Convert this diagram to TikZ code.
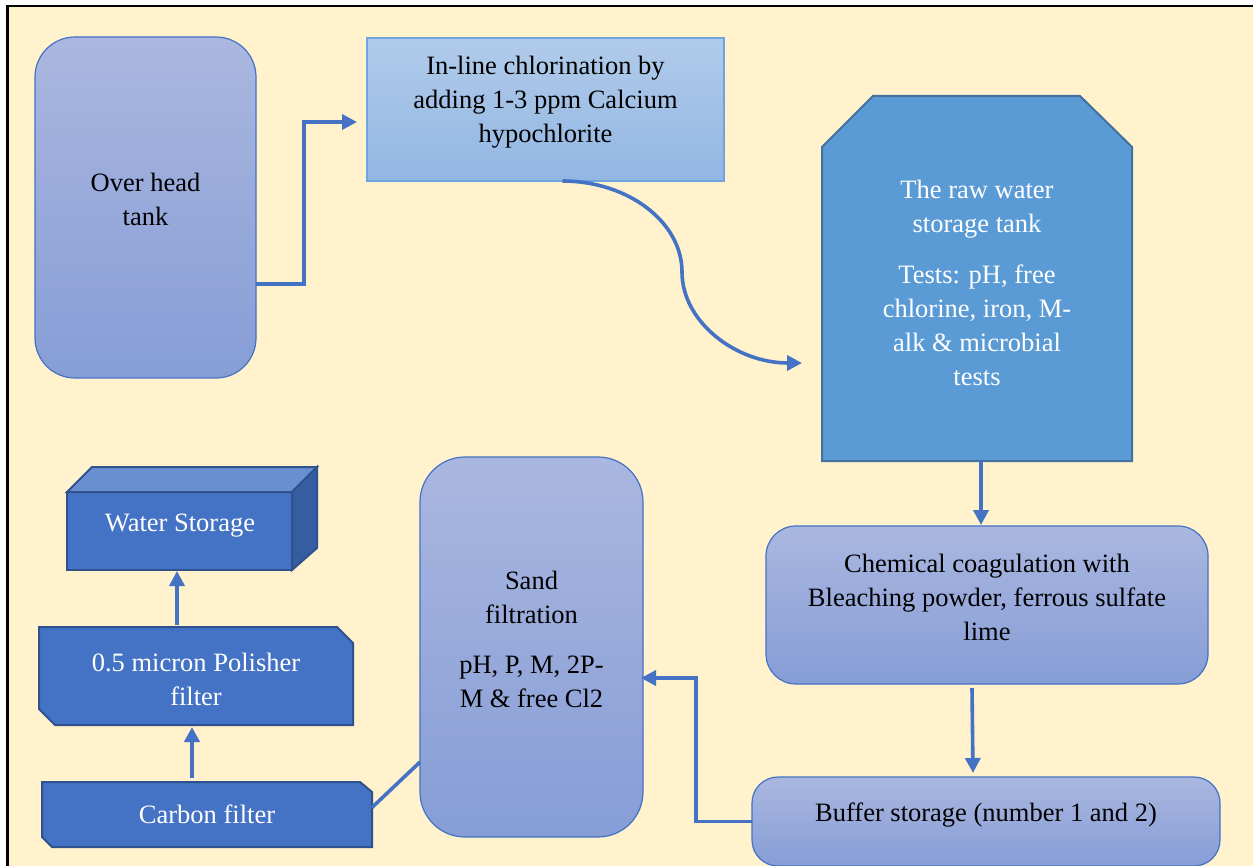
\documentclass[tikz,border=0pt]{standalone}
\usepackage{fontspec}
\setmainfont{Liberation Serif}
\newfontfamily\labelfont{Liberation Serif}
\usetikzlibrary{arrows.meta}

\definecolor{paper}{HTML}{FFF2CC}
\definecolor{flowblue}{HTML}{4472C4}
\definecolor{tanktop}{HTML}{AAB7E0}
\definecolor{tankbot}{HTML}{869DD6}
\definecolor{chltop}{HTML}{B1CBEA}
\definecolor{chlbot}{HTML}{92B6E3}
\definecolor{chledge}{HTML}{6FA4DC}
\definecolor{rawfill}{HTML}{5B9BD5}
\definecolor{rawedge}{HTML}{41719C}
\definecolor{darkfill}{HTML}{4472C4}
\definecolor{darkedge}{HTML}{2F528F}
\definecolor{cubetop}{HTML}{6A8FD0}
\definecolor{cubeside}{HTML}{365DA1}

\begin{document}
\begin{tikzpicture}[x=1pt,y=-1pt,
  every node/.style={font=\labelfont\fontsize{26.5}{34}\selectfont, inner sep=0pt, outer sep=0pt},
  softbox/.style={rectangle, draw=flowblue, line width=1.2pt, top color=tanktop, bottom color=tankbot},
  chlbox/.style={rectangle, draw=chledge, line width=1.5pt, top color=chltop, bottom color=chlbot},
  frame/.style={rectangle, draw=none, fill=none},
  rawshape/.style={fill=rawfill, draw=rawedge, line width=2pt, line join=miter},
  darkshape/.style={fill=darkfill, draw=darkedge, line width=2pt, line join=miter},
  lighttext/.style={text=white, align=center},
  darktext/.style={text=black, align=center},
  flow/.style={draw=flowblue, line width=3.6pt, line join=miter, -{Triangle[length=15pt,width=15pt]}},
  link/.style={draw=flowblue, line width=3.6pt}
]
\useasboundingbox (0,0) rectangle (1253,866);
\clip (0,0) rectangle (1253,866);
\fill[white] (0,0) rectangle (1253,866);
\filldraw[fill=paper, draw=black, line width=2.5pt] (7.5,6) rectangle (1320,940);

% ---- process units ----
\node[softbox, rounded corners=40pt, minimum width=221, minimum height=341] (oht) at (145.5,207.5) {};
\node[chlbox, minimum width=357, minimum height=143] (chl) at (545.5,109.5) {};
\node[frame, minimum width=310, minimum height=365] (raw) at (977,278.5) {};
\node[softbox, rounded corners=30pt, minimum width=442, minimum height=158] (chem) at (987,605) {};
\node[softbox, rounded corners=26pt, minimum width=468, minimum height=89] (buf) at (986,821.5) {};
\node[softbox, rounded corners=45pt, minimum width=223, minimum height=380] (sand) at (531.5,647) {};
\node[frame, minimum width=330, minimum height=65] (carb) at (207,814.5) {};
\node[frame, minimum width=314, minimum height=98] (pol) at (196,676) {};
\node[rectangle, fill=darkfill, draw=darkedge, line width=2pt, minimum width=225, minimum height=78] (ws) at (179.5,531) {};

% raw water tank: top corners cut
\filldraw[rawshape] ([xshift=51pt]raw.north west) -- ([xshift=-52pt]raw.north east)
  -- ([yshift=-51pt]raw.north east) -- (raw.south east) -- (raw.south west)
  -- ([yshift=-51pt]raw.north west) -- cycle;
% carbon filter: diagonal corners cut
\filldraw[darkshape] (carb.north west) -- ([xshift=-12pt]carb.north east)
  -- ([yshift=-10pt]carb.north east) -- (carb.south east) -- ([xshift=10pt]carb.south west)
  -- ([yshift=10pt]carb.south west) -- cycle;
% polisher filter: diagonal corners cut
\filldraw[darkshape] (pol.north west) -- ([xshift=-16pt]pol.north east)
  -- ([yshift=-16pt]pol.north east) -- (pol.south east) -- ([xshift=16pt]pol.south west)
  -- ([yshift=16pt]pol.south west) -- cycle;
% water storage block: top and side faces
\filldraw[fill=cubetop, draw=darkedge, line width=2pt, line join=miter]
  (ws.north west) -- ([xshift=25pt,yshift=25pt]ws.north west)
  -- ([xshift=25pt,yshift=25pt]ws.north east) -- (ws.north east) -- cycle;
\filldraw[fill=cubeside, draw=darkedge, line width=2pt, line join=miter]
  (ws.north east) -- ([xshift=25pt,yshift=25pt]ws.north east)
  -- ([xshift=25pt,yshift=22pt]ws.south east) -- (ws.south east) -- cycle;

% ---- labels ----
\node[darktext] (t-oht) at (145.5,199) {Over head\\tank};
\node[darktext] (t-chl) at (545.5,102) {In-line chlorination by\\adding 1-3 ppm Calcium\\hypochlorite};
\node[lighttext] (t-raw1) at (977,209) {The raw water\\storage tank};
\node[lighttext] (t-raw2) at (977,325) {Tests: pH, free\\chlorine, iron, M-\\alk \& microbial\\tests};
\node[darktext] (t-chem) at (987,597) {Chemical coagulation with\\Bleaching powder, ferrous sulfate\\lime};
\node[darktext] (t-buf) at (986,815) {Buffer storage (number 1 and 2)};
\node[darktext] (t-sand1) at (531.5,597) {Sand\\filtration};
\node[darktext] (t-sand2) at (531.5,681.5) {pH, P, M, 2P-\\M \& free Cl2};
\node[lighttext] (t-ws) at (180,526) {Water Storage};
\node[lighttext] (t-pol) at (196,679) {0.5 micron Polisher\\filter};
\node[lighttext] (t-carb) at (207,814) {Carbon filter};

% ---- connectors ----
\coordinate (rawin) at (802,363);
\draw[flow] ([yshift=-76.5pt]oht.east) -| (304,122) -- ([xshift=-10pt,yshift=-12.5pt]chl.west);
\draw[flow] ([xshift=17pt]chl.south) .. controls (628,181) and (682,222) .. (682,272)
  .. controls (682,322) and (736,363) .. (rawin);
\draw[flow] ([xshift=4pt]raw.south) -- ([xshift=-6pt,yshift=1pt]chem.north);
\draw[flow] ([xshift=-15pt,yshift=-4pt]chem.south) -- ([xshift=-13pt,yshift=4pt]buf.north);
\draw[flow] (buf.west) -| (696,678) -- ([xshift=-2pt,yshift=-31pt]sand.east);
\draw[link] ([yshift=-115pt]sand.west) -- ([yshift=7pt]carb.east);
\draw[flow] ([xshift=-15pt,yshift=4pt]carb.north) -- ([xshift=-4pt,yshift=-2pt]pol.south);
\draw[flow] ([xshift=-19pt,yshift=2pt]pol.north) -- ([xshift=-2.5pt,yshift=-1pt]ws.south);
\end{tikzpicture}
\end{document}
